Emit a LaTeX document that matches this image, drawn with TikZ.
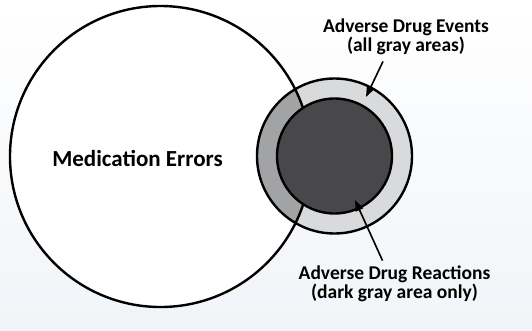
\documentclass[tikz,border=0pt]{standalone}
\usepackage{fontspec}
\setmainfont{Carlito}
\usepackage{tikz}
\usetikzlibrary{
	positioning,
	arrows.meta
}
\definecolor{lightgray}{HTML}{D9DADC}
\definecolor{midgray}{HTML}{A2A3A5}
\definecolor{darkgray}{HTML}{48484A}
\definecolor{bgblue}{HTML}{F1F4F8}

\begin{document}
\begin{tikzpicture}[x=1pt,y=-1pt,
		ring/.style={line width=2.4pt},
		label/.style={font=\bfseries\fontsize{19.5}{19.5}\selectfont,align=center,inner sep=0pt},
		pointer/.style={line width=1.6pt,-{Triangle[length=11pt,width=8pt]}}
	]
		\shade[top color=white,bottom color=bgblue]
			(0,0) rectangle (532,330);
		\useasboundingbox (0,0) rectangle (532,330);

		% circles
		\fill[white]     (160.5,156.5) circle (150.5);
		\fill[lightgray] (334.5,156)   circle (77.5);
		\begin{scope}
			\clip (334.5,156) circle (77.5);
			\fill[midgray] (160.5,156.5) circle (150.5);
		\end{scope}
		\draw[ring] (160.5,156.5) circle (150.5);
		\draw[ring] (334.5,156)   circle (77.5);
		\draw[ring,fill=darkgray] (334.5,156) circle (57.5);

		% labels
		\node[label,font=\bfseries\fontsize{23}{26}\selectfont] (me)  at (137.5,158) {Medication Errors};
		\node[label] (ade) at (406,37)  {Adverse Drug Events\\(all gray areas)};
		\node[label] (adr) at (394.5,284) {Adverse Drug Reactions\\(dark gray area only)};

		\coordinate (adeTip) at (366,97);
		\coordinate (adrTip) at (355,200);

		\draw[pointer] ([xshift=-23pt,yshift=-6pt]ade.south) -- (adeTip);
		\draw[pointer] ([xshift=-12pt,yshift=5pt]adr.north)  -- (adrTip);
	\end{tikzpicture}
\end{document}
